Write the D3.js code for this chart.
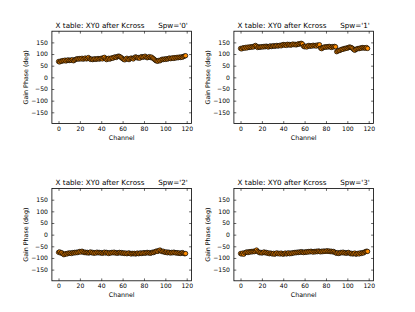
<!DOCTYPE html>
<html>
<head>
<meta charset="utf-8">
<script src="https://cdn.jsdelivr.net/npm/d3@7"></script>
<style>
  body { margin: 0; background: #fff; }
  svg { display: block; font-family: "DejaVu Sans", sans-serif; }
</style>
</head>
<body>
<svg id="chart"></svg>
<script>
// Figure size
var width = 415;
var height = 312;

// Channels 0..119, one phase value per channel for each spw
var channels = d3.range(120);
var spwNames = ["0", "1", "2", "3"];

var phaseSpw0 = [
  68, 66, 70, 69, 72, 71, 74, 70, 73, 75,
  72, 74, 73, 76, 71, 74, 77, 79, 80, 78,
  81, 79, 82, 78, 80, 83, 79, 81, 85, 80,
  77, 79, 76, 78, 80, 77, 79, 81, 78, 80,
  82, 79, 84, 86, 80, 76, 79, 82, 78, 81,
  84, 82, 86, 88, 85, 89, 91, 90, 87, 84,
  80, 77, 75, 79, 82, 78, 76, 80, 83, 81,
  79, 84, 88, 86, 83, 85, 82, 87, 89, 86,
  88, 91, 87, 84, 86, 89, 85, 87, 83, 80,
  76, 72, 70, 69, 73, 71, 75, 78, 76, 79,
  77, 80, 78, 81, 83, 80, 82, 84, 81, 85,
  83, 86, 84, 87, 85, 88, 86, 90, 91, 93
];
var phaseSpw1 = [
  124, 122, 126, 127, 125, 129, 126, 130, 128, 131,
  129, 132, 130, 134, 137, 133, 128, 131, 129, 130,
  132, 130, 133, 131, 134, 132, 130, 133, 135, 132,
  134, 136, 133, 135, 137, 134, 136, 138, 135, 139,
  141, 138, 140, 137, 142, 139, 141, 138, 140, 143,
  140, 142, 139, 141, 144, 142, 145, 146, 143, 133,
  131, 134, 130, 135, 137, 133, 136, 134, 138, 135,
  137, 134, 139, 136, 140, 125, 123, 127, 129, 131,
  129, 132, 130, 133, 131, 128, 132, 130, 133, 131,
  110, 113, 116, 115, 119, 121, 120, 124, 123, 126,
  125, 128, 130, 129, 127, 124, 119, 116, 120, 122,
  124, 123, 126, 125, 128, 126, 127, 125, 128, 124
];
var phaseSpw2 = [
  -76, -74, -79, -77, -82, -86, -84, -81, -83, -79,
  -80, -78, -81, -77, -79, -76, -78, -75, -77, -74,
  -72, -75, -71, -74, -77, -75, -78, -76, -79, -77,
  -74, -78, -76, -80, -77, -79, -75, -78, -76, -79,
  -77, -80, -78, -75, -79, -76, -78, -81, -77, -79,
  -76, -78, -75, -79, -77, -80, -78, -76, -79, -77,
  -80, -78, -81, -79, -82, -80, -78, -81, -83, -80,
  -82, -80, -83, -81, -79, -82, -80, -78, -81, -79,
  -77, -80, -78, -76, -79, -77, -80, -78, -75, -77,
  -74, -72, -70, -72, -68, -66, -70, -73, -71, -75,
  -76, -74, -78, -75, -77, -79, -76, -78, -75, -77,
  -79, -77, -80, -78, -81, -79, -77, -80, -82, -81
];
var phaseSpw3 = [
  -81, -83, -79, -84, -78, -76, -74, -77, -73, -75,
  -72, -74, -71, -73, -70, -66, -72, -75, -78, -76,
  -79, -77, -74, -78, -76, -80, -78, -82, -79, -81,
  -83, -80, -84, -81, -78, -82, -80, -83, -79, -82,
  -84, -81, -79, -83, -80, -78, -82, -79, -81, -77,
  -79, -76, -78, -75, -77, -74, -76, -73, -75, -77,
  -74, -76, -73, -75, -72, -74, -71, -73, -75, -72,
  -74, -71, -73, -70, -72, -74, -71, -73, -70, -72,
  -71, -69, -72, -70, -73, -71, -74, -72, -75, -78,
  -80, -77, -81, -79, -76, -78, -75, -79, -77, -80,
  -78, -76, -79, -82, -80, -83, -81, -79, -84, -82,
  -80, -83, -78, -81, -77, -79, -75, -73, -71, -72
];
var phases = [phaseSpw0, phaseSpw1, phaseSpw2, phaseSpw3];

var xTicks = [0, 20, 40, 60, 80, 100, 120];
var yTicks = [-150, -100, -50, 0, 50, 100, 150];

// Subplot geometry (2x2 grid)
var plotW = 139.6;
var plotH = 92.3;
var colX = [51.9, 233.9];
var rowY = [31.2, 188.5];
var tickLen = 2.4;

var svg = d3.select("#chart")
    .attr("width", width)
    .attr("height", height);

svg.append("rect")
    .attr("width", width)
    .attr("height", height)
    .attr("fill", "#fff");

var x = d3.scaleLinear().domain([-6.2, 124.5]).range([0, plotW]);
var y = d3.scaleLinear().domain([-198, 198]).range([plotH, 0]);

phases.forEach(function (vals, i) {
    var g = svg.append("g")
        .attr("transform", "translate(" + colX[i % 2] + "," + rowY[Math.floor(i / 2)] + ")");

    // markers
    var pts = channels.map(function (c, k) { return { c: c, v: vals[k] }; });
    g.append("g").selectAll("circle")
        .data(pts)
        .enter().append("circle")
        .attr("cx", function (d) { return x(d.c); })
        .attr("cy", function (d) { return y(d.v); })
        .attr("r", 2.2)
        .attr("fill", "#ff8c00")
        .attr("stroke", "#000")
        .attr("stroke-width", 0.7);

    // axes, ticks pointing inward on all four sides
    var ax = g.append("g").attr("transform", "translate(0," + plotH + ")")
        .call(d3.axisBottom(x).tickValues(xTicks).tickSize(-tickLen).tickSizeOuter(0).tickPadding(3));
    var ay = g.append("g")
        .call(d3.axisLeft(y).tickValues(yTicks).tickSize(-tickLen).tickSizeOuter(0).tickPadding(4)
            .tickFormat(function (d) { return d < 0 ? "\u2212" + Math.abs(d) : d; }));
    var at = g.append("g")
        .call(d3.axisTop(x).tickValues(xTicks).tickSize(-tickLen).tickSizeOuter(0).tickFormat(""));
    var ar = g.append("g").attr("transform", "translate(" + plotW + ",0)")
        .call(d3.axisRight(y).tickValues(yTicks).tickSize(-tickLen).tickSizeOuter(0).tickFormat(""));

    [ax, ay, at, ar].forEach(function (a) {
        a.select(".domain").remove();
        a.selectAll("line").attr("stroke", "#000").attr("stroke-width", 0.6);
        a.selectAll("text").attr("font-family", "DejaVu Sans").attr("font-size", 6.1).attr("fill", "#000");
    });

    g.append("rect")
        .attr("width", plotW)
        .attr("height", plotH)
        .attr("fill", "none")
        .attr("stroke", "#000")
        .attr("stroke-width", 0.8);

    g.append("text")
        .attr("x", plotW / 2)
        .attr("y", -3.7)
        .attr("text-anchor", "middle")
        .attr("font-size", 7.2)
        .attr("fill", "#000")
        .style("white-space", "pre")
        .text("X table: XY0 after Kcross      Spw='" + spwNames[i] + "'");

    g.append("text")
        .attr("x", plotW / 2)
        .attr("y", plotH + 16.4)
        .attr("text-anchor", "middle")
        .attr("font-size", 6.3)
        .attr("fill", "#000")
        .text("Channel");

    g.append("text")
        .attr("transform", "translate(-24," + plotH / 2 + ")rotate(-90)")
        .attr("text-anchor", "middle")
        .attr("font-size", 6.3)
        .attr("fill", "#000")
        .text("Gain Phase (deg)");
});
</script>
</body>
</html>
